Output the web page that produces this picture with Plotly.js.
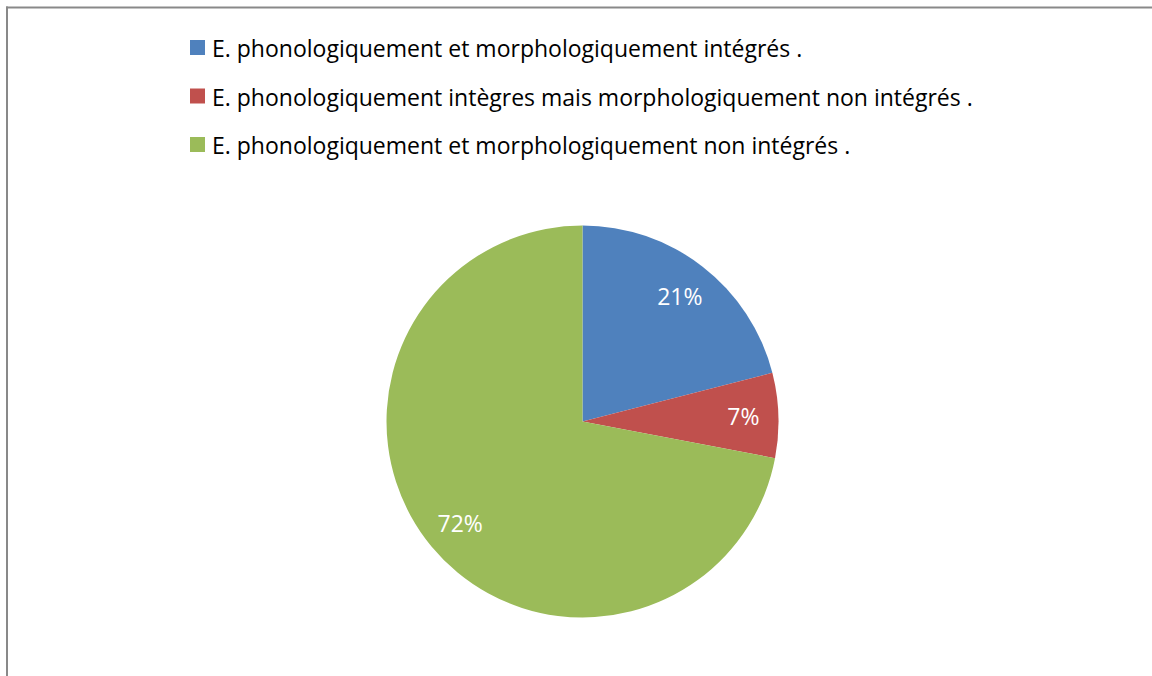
<!DOCTYPE html>
<html>
<head>
<meta charset="utf-8">
<script src="https://cdn.plot.ly/plotly-3.0.1.min.js"></script>
<style>
html,body{margin:0;padding:0;background:#fff;}
#chart{width:1152px;height:676px;}
</style>
</head>
<body>
<div id="chart"></div>
<script>
const categories = [
  "E. phonologiquement et morphologiquement intégrés .",
  "E. phonologiquement intègres mais morphologiquement non intégrés .",
  "E. phonologiquement et morphologiquement non intégrés ."
];
const values = [21, 7, 72];
const colors = ["#4F81BD", "#C0504D", "#9BBB59"];

const W = 1152, H = 676;
const px = x => x / W;
const py = y => 1 - y / H;
const pieDomain = {x: [px(386.5), px(778.5)], y: [py(617.5), py(225.5)]};

const slices = {
  type: "pie",
  labels: categories,
  values: values,
  sort: false,
  direction: "clockwise",
  rotation: 0,
  marker: {colors: colors, line: {width: 0}},
  textinfo: "none",
  showlegend: false,
  hoverinfo: "label+percent",
  domain: pieDomain
};
// transparent ring carrying the percentage labels near the outer part of each slice
const labelsRing = {
  type: "pie",
  labels: categories,
  values: values,
  sort: false,
  direction: "clockwise",
  rotation: 0,
  hole: 0.62,
  marker: {colors: colors.map(() => "rgba(0,0,0,0)"), line: {width: 0}},
  textinfo: "percent",
  textposition: "inside",
  insidetextorientation: "horizontal",
  textfont: {family: "Open Sans", size: 23, color: "#ffffff"},
  showlegend: false,
  hoverinfo: "skip",
  domain: pieDomain
};

const shapes = [
  {type: "line", xref: "paper", yref: "paper", x0: px(6), x1: px(1152), y0: py(7.5), y1: py(7.5),
   line: {color: "#898989", width: 2}},
  {type: "line", xref: "paper", yref: "paper", x0: px(7), x1: px(7), y0: py(6.5), y1: py(676),
   line: {color: "#898989", width: 2}}
];
const annotations = [];
const legendTop = 47.5, legendStep = 48.5;
categories.forEach((c, i) => {
  const cy = legendTop + i * legendStep;
  shapes.push({type: "rect", xref: "paper", yref: "paper",
    x0: px(190), x1: px(205), y0: py(cy - 7.5), y1: py(cy + 7.5),
    fillcolor: colors[i], line: {width: 0}});
  annotations.push({xref: "paper", yref: "paper", x: px(210), y: py(cy + 1),
    xanchor: "left", yanchor: "middle", showarrow: false, text: c,
    font: {family: "Open Sans", size: 23, color: "#000000"}});
});

const layout = {
  width: W, height: H,
  margin: {l: 0, r: 0, t: 0, b: 0},
  paper_bgcolor: "#ffffff",
  showlegend: false,
  shapes: shapes,
  annotations: annotations
};

Plotly.newPlot("chart", [slices, labelsRing], layout, {displayModeBar: false, staticPlot: true});
</script>
</body>
</html>
